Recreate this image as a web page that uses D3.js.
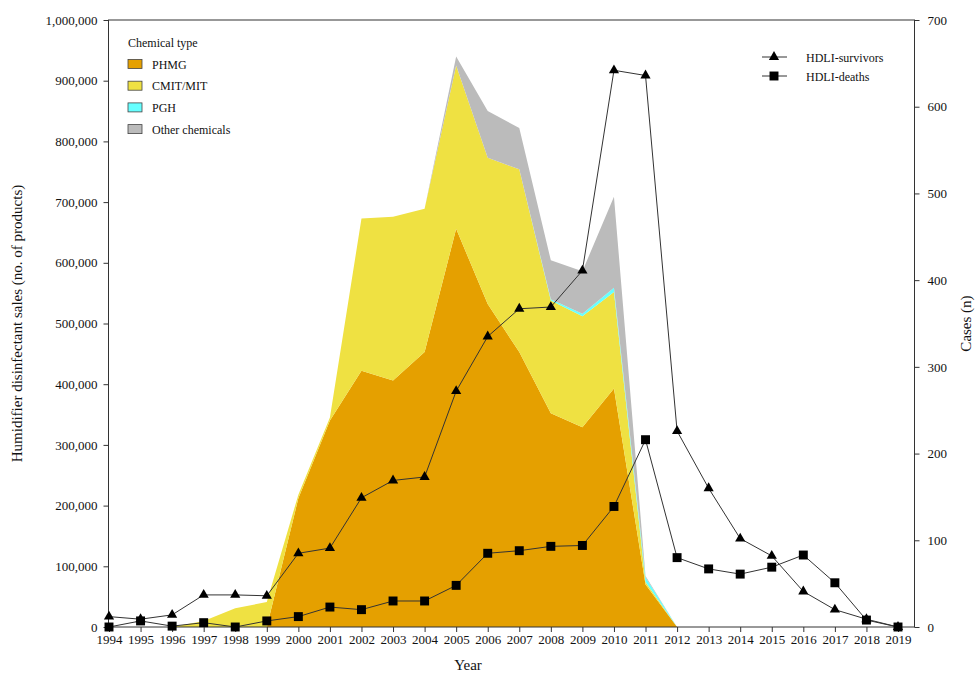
<!DOCTYPE html>
<html>
<head>
<meta charset="utf-8">
<script src="https://cdn.jsdelivr.net/npm/d3@7"></script>
<style>
    body { margin: 0; background: #fff; }
    text { font-family: "Liberation Serif", "Times New Roman", serif; fill: #111; }
</style>
</head>
<body>
<div id="chart"></div>
<script>
// Years on the x axis
var years = [1994, 1995, 1996, 1997, 1998, 1999, 2000, 2001, 2002, 2003, 2004, 2005, 2006,
             2007, 2008, 2009, 2010, 2011, 2012, 2013, 2014, 2015, 2016, 2017, 2018, 2019];

// Sales by chemical type (no. of products)
var phmg  = [0, 0, 0, 0, 0, 0, 212000, 340000, 422000, 406000, 453000, 656000, 532000,
             453000, 352000, 329000, 393000, 70000, 0, 0, 0, 0, 0, 0, 0, 0];
var cmit  = [0, 0, 0, 10000, 31000, 41000, 6000, 5000, 251000, 270000, 236000, 269000, 241000,
             301000, 186000, 183000, 159000, 4000, 0, 0, 0, 0, 0, 0, 0, 0];
var pgh   = [0, 0, 0, 0, 0, 0, 0, 0, 0, 0, 0, 0, 0,
             0, 2000, 4000, 7000, 8000, 0, 0, 0, 0, 0, 0, 0, 0];
var other = [0, 0, 0, 0, 0, 0, 0, 0, 0, 0, 0, 15000, 77000,
             68000, 64000, 70000, 150000, 2000, 0, 0, 0, 0, 0, 0, 0, 0];

// Cases (n)
var survivors = [12, 9, 14, 37, 37, 36, 85, 91, 149, 169, 173, 272, 335,
                 367, 369, 411, 642, 636, 226, 160, 102, 82, 41, 20, 9, 0];
var deaths    = [0, 7, 1, 5, 0, 7, 12, 23, 20, 30, 30, 48, 85,
                 88, 93, 94, 139, 216, 80, 67, 61, 69, 83, 51, 8, 0];

var chemKeys   = ["PHMG", "CMIT/MIT", "PGH", "Other chemicals"];
var chemColors = ["#E5A000", "#EFE142", "#66FFFF", "#BBBBBB"];
var leftTicks  = [0, 100000, 200000, 300000, 400000, 500000, 600000, 700000, 800000, 900000, 1000000];
var rightTicks = [0, 100, 200, 300, 400, 500, 600, 700];

var width = 975, height = 673;
var plotLeft = 108.5, plotRight = 914.5, plotTop = 20, plotBottom = 627;

var svg = d3.select("#chart").append("svg")
    .attr("width", width)
    .attr("height", height);

// Scales
var x = d3.scaleLinear().domain([1994, 2019]).range([109, 898]);
var yLeft = d3.scaleLinear().domain([0, 1000000]).range([plotBottom, plotTop]);
var yRight = d3.scaleLinear().domain([0, 700]).range([plotBottom, plotTop]);

// Build table for stacking
var table = years.map(function (yr, i) {
    return { year: yr, "PHMG": phmg[i], "CMIT/MIT": cmit[i], "PGH": pgh[i], "Other chemicals": other[i] };
});
var series = d3.stack().keys(chemKeys)(table);

var area = d3.area()
    .x(function (d) { return x(d.data.year); })
    .y0(function (d) { return yLeft(d[0]); })
    .y1(function (d) { return yLeft(d[1]); });

svg.selectAll("path.layer")
    .data(series)
    .enter().append("path")
    .attr("class", "layer")
    .attr("d", area)
    .attr("fill", function (d, i) { return chemColors[i]; });

// Axes
var gLeft = svg.append("g")
    .attr("transform", "translate(" + plotLeft + ",0)")
    .call(d3.axisLeft(yLeft).tickValues(leftTicks).tickFormat(d3.format(",")).tickSize(5).tickPadding(6));

var gRight = svg.append("g")
    .attr("transform", "translate(" + plotRight + ",0)")
    .call(d3.axisRight(yRight).tickValues(rightTicks).tickSize(5).tickPadding(8));

var gBottom = svg.append("g")
    .attr("transform", "translate(0," + plotBottom + ")")
    .call(d3.axisBottom(x).tickValues(years).tickFormat(d3.format("d")).tickSize(5).tickPadding(3));

[gLeft, gRight, gBottom].forEach(function (g) {
    g.select(".domain").remove();
    g.selectAll("line").attr("stroke", "#333");
    g.selectAll("text").attr("font-size", "13px").attr("font-family", "Liberation Serif, serif").attr("fill", "#111");
});

// Frame
svg.append("rect")
    .attr("x", plotLeft).attr("y", plotTop)
    .attr("width", plotRight - plotLeft).attr("height", plotBottom - plotTop)
    .attr("fill", "none").attr("stroke", "#333").attr("stroke-width", 1);

// Case lines
var lineS = d3.line()
    .x(function (d, i) { return x(years[i]); })
    .y(function (d) { return yRight(d); });

svg.append("path")
    .datum(survivors)
    .attr("d", lineS)
    .attr("fill", "none").attr("stroke", "#333").attr("stroke-width", 1);

svg.append("path")
    .datum(deaths)
    .attr("d", lineS)
    .attr("fill", "none").attr("stroke", "#333").attr("stroke-width", 1);

var tri = d3.symbol().type(d3.symbolTriangle).size(45);
var sq = d3.symbol().type(d3.symbolSquare).size(80);

svg.selectAll("path.tri")
    .data(survivors)
    .enter().append("path")
    .attr("class", "tri")
    .attr("d", tri)
    .attr("transform", function (d, i) { return "translate(" + x(years[i]) + "," + yRight(d) + ")"; })
    .attr("fill", "#000");

svg.selectAll("path.sq")
    .data(deaths)
    .enter().append("path")
    .attr("class", "sq")
    .attr("d", sq)
    .attr("transform", function (d, i) { return "translate(" + x(years[i]) + "," + yRight(d) + ")"; })
    .attr("fill", "#000");

// Axis titles
svg.append("text")
    .attr("transform", "translate(22," + ((plotTop + plotBottom) / 2) + ") rotate(-90)")
    .attr("text-anchor", "middle")
    .attr("font-size", "15px")
    .text("Humidifier disinfectant sales (no. of products)");

svg.append("text")
    .attr("transform", "translate(971," + ((plotTop + plotBottom) / 2) + ") rotate(-90)")
    .attr("text-anchor", "middle")
    .attr("font-size", "15px")
    .text("Cases (n)");

svg.append("text")
    .attr("x", 468).attr("y", 670)
    .attr("text-anchor", "middle")
    .attr("font-size", "15px")
    .text("Year");

// Chemical legend
svg.append("text")
    .attr("x", 128).attr("y", 47)
    .attr("font-size", "12px")
    .text("Chemical type");

var leg = svg.selectAll("g.leg")
    .data(chemKeys)
    .enter().append("g")
    .attr("class", "leg")
    .attr("transform", function (d, i) { return "translate(128," + (64 + i * 21.7) + ")"; });

leg.append("rect")
    .attr("x", 0).attr("y", -4.5)
    .attr("width", 14).attr("height", 9)
    .attr("fill", function (d, i) { return chemColors[i]; })
    .attr("stroke", "#444").attr("stroke-width", 0.8);

leg.append("text")
    .attr("x", 24).attr("y", 4.5)
    .attr("font-size", "12px")
    .text(function (d) { return d; });

// Cases legend
var caseLeg = [{ name: "HDLI-survivors", sym: tri, y: 57 }, { name: "HDLI-deaths", sym: sq, y: 76 }];
caseLeg.forEach(function (c) {
    svg.append("line")
        .attr("x1", 762).attr("x2", 787)
        .attr("y1", c.y).attr("y2", c.y)
        .attr("stroke", "#333");
    svg.append("path")
        .attr("d", c.sym)
        .attr("transform", "translate(774," + c.y + ")")
        .attr("fill", "#000");
    svg.append("text")
        .attr("x", 806).attr("y", c.y + 4.5)
        .attr("font-size", "12px")
        .text(c.name);
});
</script>
</body>
</html>
